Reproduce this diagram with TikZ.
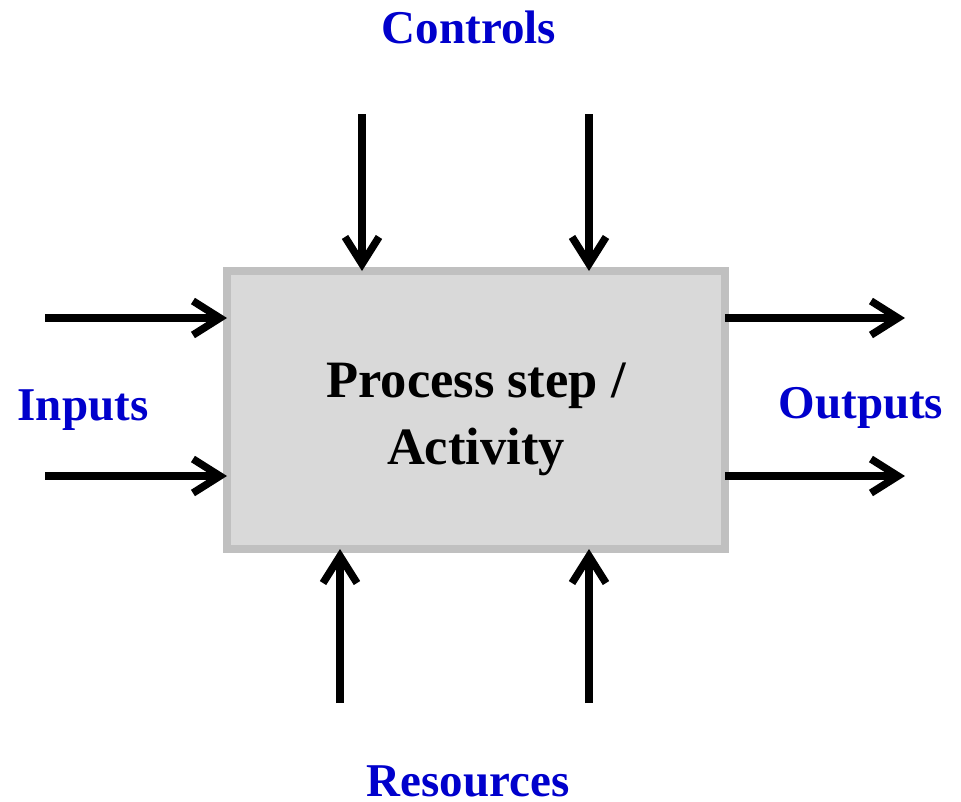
\documentclass[tikz,border=0pt]{standalone}
\usepackage{fontspec}
\setmainfont{Liberation Serif}
\usetikzlibrary{arrows.meta}
\definecolor{lblblue}{HTML}{0000CC}
\definecolor{boxfill}{HTML}{D9D9D9}
\definecolor{boxline}{HTML}{C0C0C0}
\tikzset{
    flow/.style={line width=7.5pt, -{Straight Barb[length=27pt,width=34pt]}},
    lbl/.style={text=lblblue, font=\fontsize{47}{50}\selectfont\bfseries, anchor=base, inner sep=0pt},
}
\begin{document}
\begin{tikzpicture}[x=1pt,y=-1pt]
        \useasboundingbox (0,0) rectangle (961,801);
        %% Activity box
        \node[draw=boxline, fill=boxfill, line width=8pt, minimum width=498pt, minimum height=278pt,
              inner sep=0pt, outer sep=0pt] (activity) at (476,410) {};
        \node[font=\fontsize{52.5}{67}\selectfont\bfseries, align=center, inner sep=0pt]
              (activitytext) at (476,419) {Process step /\\Activity};
        %% Labels
        \node[lbl] (controls) at (469,43) {Controls};
        \node[lbl] (inputs) at (83,420) {Inputs};
        \node[lbl] (outputs) at (861,418) {Outputs};
        \node[lbl] (resources) at (468,796) {Resources};
        %% Controls from above
        \foreach \x/\name in {362/ctrla, 589/ctrlb} {
            \coordinate (\name) at (\x,114);
            \draw[flow] (\name) -- (\name |- activity.north);
        }
        %% Resources from below
        \foreach \x/\name in {340/resa, 589/resb} {
            \coordinate (\name) at (\x,703);
            \draw[flow] (\name) -- (\name |- activity.south);
        }
        %% Inputs and outputs
        \foreach \y/\name in {318/a, 476/b} {
            \coordinate (in\name) at (45,\y);
            \coordinate (out\name) at (905,\y);
            \draw[flow] (in\name) -- (in\name -| activity.west);
            \draw[flow] (activity.east |- out\name) -- (out\name);
        }
    \end{tikzpicture}
\end{document}
